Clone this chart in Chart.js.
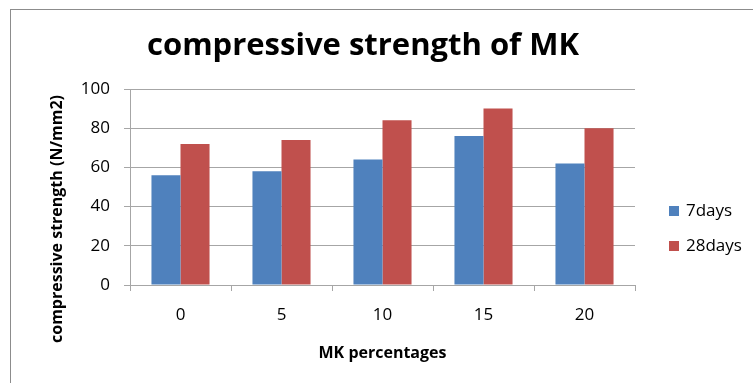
<!DOCTYPE html>
<html>
<head>
<meta charset="utf-8">
<script src="https://cdn.jsdelivr.net/npm/chart.js@4"></script>
<style>
  html, body { margin: 0; padding: 0; background: #ffffff; }
  #wrap { position: relative; width: 753px; height: 383px; }
</style>
</head>
<body>
<div id="wrap"><canvas id="c" width="753" height="383"></canvas></div>
<script>
// MK replacement levels (%) on the x axis
const categories = ['0', '5', '10', '15', '20'];
// Compressive strength (N/mm2) after curing
const days7 = [56, 58, 64, 76, 62];
const days28 = [72, 74, 84, 90, 80];
const seriesNames = ['7days', '28days'];
const yTicks = [0, 20, 40, 60, 80, 100];

const chartTitle = 'compressive strength of MK';
const xTitle = 'MK percentages';
const yTitle = 'compressive strength (N/mm2)';

const FONT = '"Open Sans", Lato, sans-serif';
const GRID = '#a6a6a6';

// Frame, title, axis titles and legend drawn around the plot area
const decor = {
  id: 'decor',
  beforeDraw(chart) {
    const ctx = chart.ctx;
    ctx.save();
    ctx.strokeStyle = '#8c8c8c';
    ctx.lineWidth = 1;
    ctx.strokeRect(10.5, 9.5, 760, 400);
    ctx.restore();
  },
  afterDraw(chart) {
    const ctx = chart.ctx;
    const area = chart.chartArea;
    ctx.save();
    ctx.fillStyle = '#000000';
    ctx.textAlign = 'center';
    ctx.textBaseline = 'middle';
    ctx.font = 'bold 31px ' + FONT;
    ctx.fillText(chartTitle, 363, 46);

    ctx.font = 'bold 16px ' + FONT;
    ctx.fillText(xTitle, (area.left + area.right) / 2, 353);

    ctx.font = 'bold 16px ' + FONT;
    ctx.translate(57, 219);
    ctx.rotate(-Math.PI / 2);
    ctx.fillText(yTitle, 0, 0);
    ctx.restore();

    // legend
    ctx.save();
    ctx.font = '17px ' + FONT;
    ctx.textAlign = 'left';
    ctx.textBaseline = 'middle';
    chart.data.datasets.forEach((ds, i) => {
      const y = 211 + i * 35;
      ctx.fillStyle = ds.backgroundColor;
      ctx.fillRect(669, y - 5, 10, 10);
      ctx.fillStyle = '#000000';
      ctx.fillText(ds.label, 686, y);
    });
    ctx.restore();
  }
};

new Chart(document.getElementById('c'), {
  type: 'bar',
  data: {
    labels: categories,
    datasets: [
      { label: seriesNames[0], data: days7, backgroundColor: '#4f81bd' },
      { label: seriesNames[1], data: days28, backgroundColor: '#c0504d' }
    ]
  },
  options: {
    responsive: false,
    animation: false,
    devicePixelRatio: 1,
    layout: { padding: { top: 89, right: 118, bottom: 0, left: 0 } },
    datasets: { bar: { categoryPercentage: 0.575, barPercentage: 1.0 } },
    plugins: {
      legend: { display: false },
      title: { display: false },
      tooltip: { enabled: false }
    },
    scales: {
      x: {
        afterFit(scale) { scale.height = 98; },
        grid: {
          display: true, drawOnChartArea: false, offset: true,
          color: GRID, tickLength: 6
        },
        border: { color: GRID },
        ticks: { color: '#000000', font: { family: FONT, size: 17 }, padding: 14 }
      },
      y: {
        min: 0, max: 100,
        afterFit(scale) { scale.width = 130; },
        afterBuildTicks(scale) { scale.ticks = yTicks.map(v => ({ value: v })); },
        grid: { color: GRID, tickLength: 6 },
        border: { color: GRID },
        ticks: { color: '#000000', font: { family: FONT, size: 17 }, padding: 14 }
      }
    }
  },
  plugins: [decor]
});
</script>
</body>
</html>
